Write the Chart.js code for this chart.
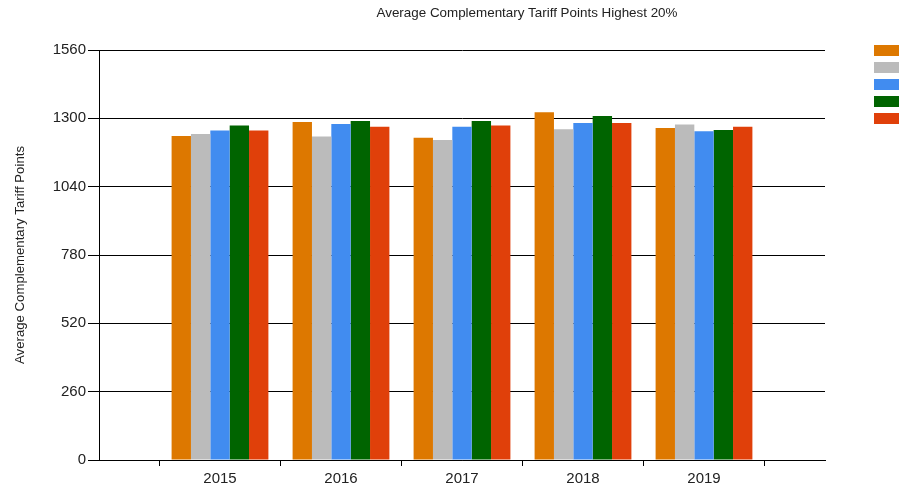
<!DOCTYPE html>
<html lang="en">
<head>
    <meta charset="UTF-8">
    <title>Average Complementary Tariff Points Highest 20%</title>
    <script src="https://cdn.jsdelivr.net/npm/chart.js"></script>
    <style>
        html, body { margin: 0; padding: 0; background: #fff; }
        #wrap { width: 899px; height: 490px; }
    </style>
</head>
<body>
    <div id="wrap"><canvas id="myChart" width="899" height="490"></canvas></div>
    <script>
        // data
        const years = ['2015', '2016', '2017', '2018', '2019'];
        const yTicks = [0, 260, 520, 780, 1040, 1300, 1560];
        const series1 = [1233, 1286, 1226, 1323, 1263];
        const series2 = [1240, 1231, 1218, 1258, 1277];
        const series3 = [1254, 1278, 1268, 1282, 1251];
        const series4 = [1273, 1290, 1290, 1309, 1256];
        const series5 = [1254, 1268, 1273, 1282, 1268];
        const colors = ['rgb(221,120,0)', 'rgb(187,187,187)', 'rgb(65,140,240)', 'rgb(0,100,0)', 'rgb(224,64,10)'];

        const FONT = "'Liberation Sans', Arial, sans-serif";

        // empty slot each side, like the original axis
        const labels = [''].concat(years, ['']);
        const pad = arr => [null].concat(arr, [null]);

        const datasets = [series1, series2, series3, series4, series5].map((s, i) => ({
            label: '',
            data: pad(s),
            backgroundColor: colors[i],
            borderWidth: 0,
            barPercentage: 1.0,
            categoryPercentage: 0.8
        }));

        const extras = {
            id: 'extras',
            afterDraw(chart) {
                const ctx = chart.ctx;
                ctx.save();
                ctx.fillStyle = '#222';
                ctx.font = '13.4px ' + FONT;
                ctx.textAlign = 'center';
                ctx.textBaseline = 'middle';
                ctx.fillText('Average Complementary Tariff Points Highest 20%', 527, 13);
                // legend boxes (labels are off the picture)
                chart.data.datasets.forEach((ds, i) => {
                    ctx.fillStyle = ds.backgroundColor;
                    ctx.fillRect(874, 45 + i * 17, 26, 11);
                });
                ctx.restore();
            }
        };

        const config = {
            type: 'bar',
            data: { labels: labels, datasets: datasets },
            options: {
                responsive: false,
                animation: false,
                layout: { padding: { top: 50, right: 74, bottom: 0, left: 0 } },
                plugins: {
                    legend: { display: false },
                    title: { display: false },
                    tooltip: { enabled: false }
                },
                scales: {
                    x: {
                        offset: false,
                        grid: {
                            offset: true,
                            drawOnChartArea: false,
                            drawTicks: true,
                            tickLength: 6,
                            color: '#000'
                        },
                        border: { display: true, color: '#000', width: 1 },
                        ticks: {
                            color: '#222',
                            font: { family: FONT, size: 15 },
                            padding: 4,
                            maxRotation: 0,
                            autoSkip: false
                        },
                        afterFit: s => { s.height = 30; }
                    },
                    y: {
                        min: 0,
                        max: 1560,
                        afterBuildTicks: s => { s.ticks = yTicks.map(v => ({ value: v })); },
                        grid: { color: '#000', tickLength: 11, drawTicks: true },
                        border: { display: true, color: '#000', width: 1 },
                        ticks: {
                            color: '#222',
                            font: { family: FONT, size: 15 },
                            padding: 2,
                            callback: v => String(v)
                        },
                        title: {
                            display: true,
                            text: 'Average Complementary Tariff Points',
                            color: '#222',
                            font: { family: FONT, size: 13.2 },
                            padding: { top: 12, bottom: 0 }
                        },
                        afterFit: s => { s.width = 99; }
                    }
                }
            },
            plugins: [extras]
        };

        window.onload = function() {
            const ctx = document.getElementById('myChart').getContext('2d');
            new Chart(ctx, config);
        };
    </script>
</body>
</html>
